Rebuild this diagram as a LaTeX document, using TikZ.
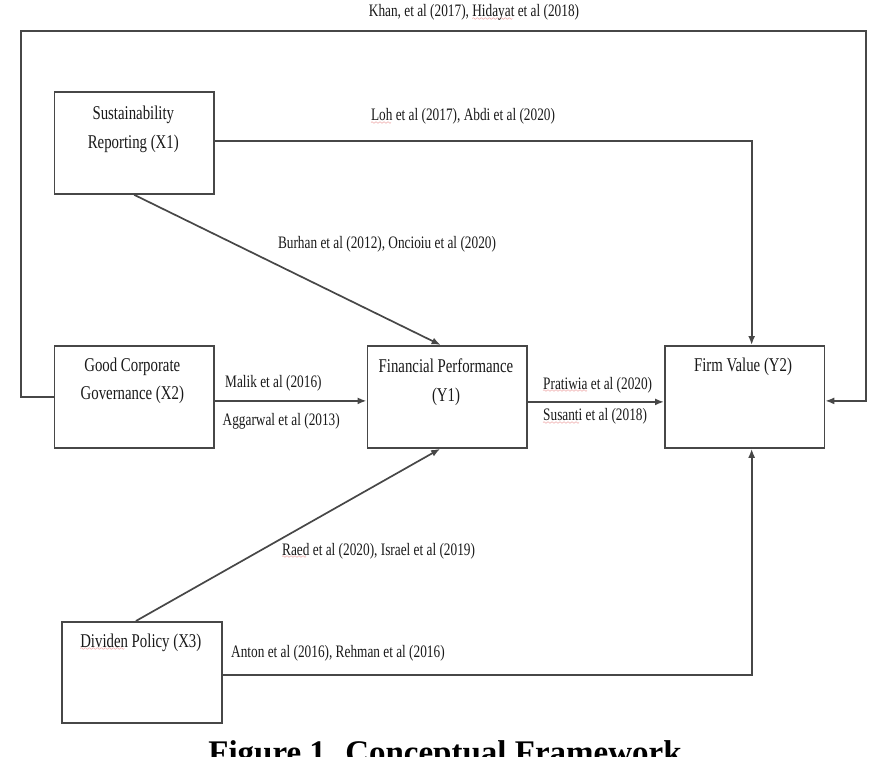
\documentclass[tikz,border=0pt]{standalone}
\usepackage{fontspec}
\usetikzlibrary{arrows.meta}
\setmainfont{Liberation Serif}
\newfontfamily\bodyfont[FakeStretch=0.76]{Liberation Serif}
\font\sqfont=lasy10 at 6pt
\newcommand\redsq[1]{\setbox0\hbox{#1}\rlap{\textcolor{red!80!black}{\lower3.5pt\hbox to\wd0{\leaders\hbox{\sqfont\char58}\hfil}}}\box0\relax}
\tikzset{
  box/.style={draw=black!72, line width=1.8pt, inner sep=0pt, anchor=north west,
              minimum width=159.5pt, minimum height=102pt},
  lbl/.style={inner sep=0pt, text=black!90, font=\bodyfont\fontsize{19.5}{24}\selectfont},
  elbl/.style={inner sep=0pt, text=black!90, font=\bodyfont\fontsize{17.5}{22}\selectfont},
  conn/.style={draw=black!72, line width=1.7pt},
  arr/.style={-{Latex[length=9pt,width=7pt]}},
}
\begin{document}
\begin{tikzpicture}[x=1pt,y=-1pt]
\useasboundingbox (0,0) rectangle (883,757);
% boxes
\node[box] (x1) at (53.5,91) {};
\node[box] (gcg) at (53.5,345) {};
\node[box] (fp) at (366.5,345) {};
\node[box] (fv) at (664,345) {};
\node[box, minimum width=160pt, minimum height=101pt] (x3) at (61,621) {};
% box texts
\node[lbl, anchor=base] (x1a) at (133.3,120) {Sustainability};
\node[lbl, anchor=base] (x1b) at (133.3,148.3) {Reporting (X1)};
\node[lbl, anchor=base] (gcga) at (132.3,371.7) {Good Corporate};
\node[lbl, anchor=base] (gcgb) at (132.3,399.3) {Governance (X2)};
\node[lbl, anchor=base] (fpa) at (446,372.3) {Financial Performance};
\node[lbl, anchor=base] (fpb) at (446,401.7) {(Y1)};
\node[lbl, anchor=base] (fva) at (743,371.7) {Firm Value (Y2)};
\node[lbl, anchor=base] (x3a) at (140.8,647.3) {\redsq{Dividen} Policy (X3)};
% coordinates of the outer loop
\coordinate (lt) at (21,31);
\coordinate (rt) at (866,31);
% connectors
\draw[conn, arr] (gcg.west) -| (lt) -- (rt) |- ([yshift=-4pt]fv.east);
\draw[conn, arr] ([yshift=2pt]x1.east) -| ([xshift=7pt]fv.north);
\draw[conn, arr] (x1.south) -- ([xshift=-6.5pt]fp.north);
\draw[conn, arr] ([yshift=-4pt]gcg.east) -- ([yshift=-4pt]fp.west);
\draw[conn, arr] ([yshift=-5pt]fp.east) -- ([yshift=-5pt]fv.west);
\draw[conn, arr] ([xshift=-6pt]x3.north) -- ([xshift=-7pt]fp.south);
\draw[conn, arr] ([yshift=-2.5pt]x3.east) -| ([xshift=7pt]fv.south);
% connector labels
\node[elbl, anchor=base] (lkhan) at (474,17) {Khan, et al (2017), \redsq{Hidayat} et al (2018)};
\node[elbl, anchor=base] (lloh) at (463,121) {\redsq{Loh} et al (2017), Abdi et al (2020)};
\node[elbl, anchor=base] (lburhan) at (387,248.3) {Burhan et al (2012), Oncioiu et al (2020)};
\node[elbl, anchor=base west] (lmalik) at (225,387.3) {Malik et al (2016)};
\node[elbl, anchor=base west] (lagg) at (222.5,425) {Aggarwal et al (2013)};
\node[elbl, anchor=base west] (lprat) at (543,389.3) {\redsq{Pratiwia} et al (2020)};
\node[elbl, anchor=base west] (lsus) at (543,420.7) {\redsq{Susanti} et al (2018)};
\node[elbl, anchor=base] (lraed) at (378.6,555) {\redsq{Raed} et al (2020), Israel et al (2019)};
\node[elbl, anchor=base west] (lanton) at (231,657.3) {Anton et al (2016), Rehman et al (2016)};
% caption (cut off by the page edge as in the reference)
\node[inner sep=0pt, anchor=base, font=\bfseries\fontsize{33}{36}\selectfont] (cap) at (445,763) {Figure 1. Conceptual Framework};
\end{tikzpicture}
\end{document}
